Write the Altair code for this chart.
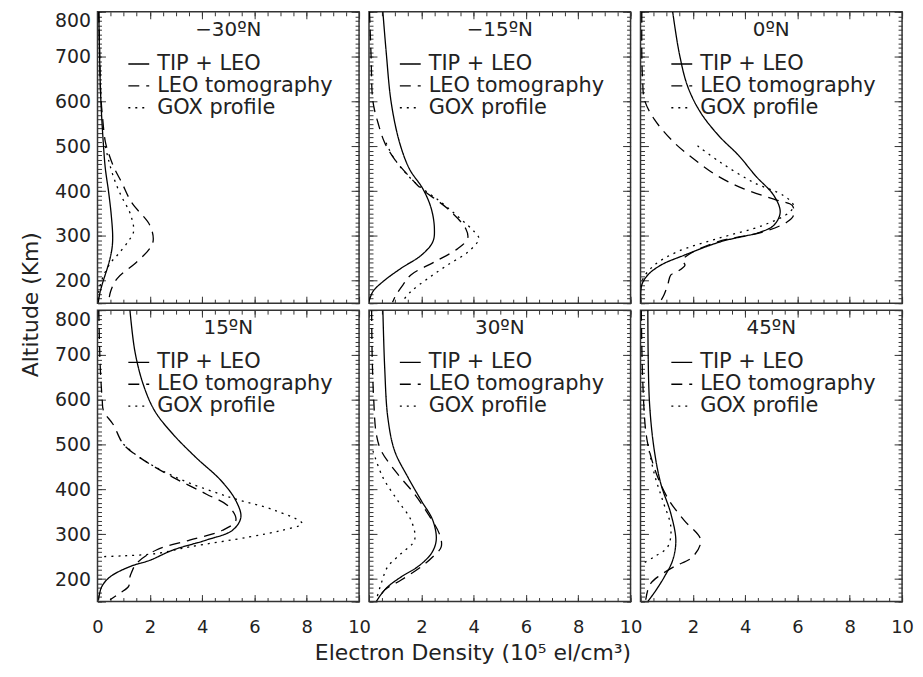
import altair as alt
import pandas as pd

FONT = "DejaVu Sans"
LAT = ["−30ºN", "−15ºN", "0ºN", "15ºN", "30ºN", "45ºN"]
SERIES = ["TIP + LEO", "LEO tomography", "GOX profile"]
DASHES = [[1, 0], [11, 7], [2, 5]]
XTITLE = "Electron Density (10⁵ el/cm³)"
YTITLE = "Altitude (Km)"

X_MAJOR = [0, 2, 4, 6, 8, 10]
X_MINOR = [0, 0.5, 1, 1.5, 2, 2.5, 3, 3.5, 4, 4.5, 5, 5.5, 6, 6.5, 7, 7.5, 8, 8.5, 9, 9.5, 10]
Y_MAJOR = [150, 200, 300, 400, 500, 600, 700, 800]
Y_MINOR = list(range(150, 801, 10))

# (altitude km, electron density 1e5 el/cm3)
tip_m30 = [(800, 0.05), (700, 0.08), (600, 0.13), (500, 0.23), (450, 0.3), (400, 0.42), (350, 0.52), (300, 0.58),
           (275, 0.56), (250, 0.48), (225, 0.36), (200, 0.22), (175, 0.1), (152, 0.03)]
leo_m30 = [(800, 0.05), (720, 0.08), (620, 0.12), (560, 0.2), (510, 0.3), (480, 0.45), (450, 0.65), (420, 0.92),
           (375, 1.3), (324, 2.0), (290, 2.13), (272, 2.0), (242, 1.5), (205, 0.75), (176, 0.5), (150, 0.42)]
gox_m30 = [(500, 0.3), (470, 0.42), (430, 0.62), (390, 0.9), (350, 1.25), (310, 1.38), (290, 1.2), (260, 0.8),
           (240, 0.5), (210, 0.22), (180, 0.06), (150, 0.0)]

tip_m15 = [(800, 0.53), (708, 0.66), (597, 0.85), (508, 1.17), (449, 1.55), (405, 2.06), (361, 2.38), (316, 2.5),
           (287, 2.44), (257, 2.0), (228, 1.23), (198, 0.53), (176, 0.15), (154, 0.0)]
leo_m15 = [(800, 0.02), (700, 0.08), (600, 0.15), (553, 0.34), (508, 0.6), (471, 0.98), (420, 1.74), (405, 2.0),
           (361, 3.0), (316, 3.7), (294, 3.77), (272, 3.4), (242, 2.5), (213, 1.6), (191, 1.3), (169, 1.04),
           (152, 0.9)]
gox_m15 = [(508, 0.65), (471, 0.98), (420, 1.74), (375, 2.76), (338, 3.5), (309, 4.03), (294, 4.2), (265, 3.8),
           (235, 3.0), (205, 2.25), (176, 1.6), (152, 1.25)]

tip_0 = [(800, 1.23), (708, 1.48), (634, 1.8), (575, 2.3), (523, 3.0), (479, 3.76), (434, 4.4), (390, 5.1),
         (353, 5.34), (324, 5.1), (309, 4.6), (287, 3.06), (257, 1.67), (235, 0.78), (213, 0.28), (191, 0.05),
         (152, 0.0)]
leo_0 = [(800, 0.05), (700, 0.05), (650, 0.08), (604, 0.15), (560, 0.53), (508, 1.29), (471, 2.05), (434, 2.94),
         (405, 3.95), (380, 5.2), (368, 5.8), (346, 5.85), (331, 5.6), (309, 4.7), (287, 2.94), (257, 1.8),
         (245, 1.6), (235, 1.7), (220, 1.4), (213, 1.16), (191, 1.04), (169, 0.9), (150, 0.72)]
gox_0 = [(501, 2.18), (464, 3.06), (420, 4.3), (390, 5.47), (368, 5.85), (353, 5.7), (324, 4.7), (294, 2.94),
         (265, 1.42), (235, 0.53), (205, 0.1), (180, 0.0)]

tip_15 = [(800, 1.24), (708, 1.43), (634, 1.75), (575, 2.19), (523, 2.89), (471, 3.77), (420, 4.72), (375, 5.29),
          (338, 5.48), (309, 5.16), (287, 4.15), (265, 2.89), (242, 2.0), (228, 1.24), (205, 0.48), (183, 0.16),
          (154, 0.04)]
leo_15 = [(800, 0.05), (680, 0.1), (600, 0.18), (575, 0.23), (545, 0.6), (501, 0.99), (471, 1.62), (427, 2.89),
          (390, 4.15), (361, 5.04), (331, 5.29), (309, 4.78), (287, 3.52), (265, 2.25), (235, 1.49), (215, 1.3),
          (205, 1.24), (190, 1.22), (183, 1.18), (169, 0.86), (154, 0.48)]
gox_15 = [(501, 0.99), (471, 1.62), (427, 3.0), (383, 5.04), (353, 6.8), (324, 7.82), (309, 7.06), (294, 5.8),
          (272, 3.52), (257, 2.25), (252, 1.0), (250, 0.1)]

tip_30 = [(800, 0.53), (671, 0.6), (560, 0.72), (486, 0.98), (427, 1.49), (375, 2.0), (331, 2.44), (287, 2.57),
          (257, 2.38), (228, 1.87), (205, 1.23), (183, 0.72), (161, 0.4), (150, 0.28)]
leo_30 = [(800, 0.1), (700, 0.12), (600, 0.18), (523, 0.28), (486, 0.47), (434, 1.1), (390, 1.74), (346, 2.25),
          (301, 2.69), (272, 2.76), (250, 2.44), (228, 2.0), (198, 1.23), (176, 0.6), (154, 0.34)]
gox_30 = [(486, 0.15), (427, 0.53), (375, 1.1), (331, 1.61), (287, 1.74), (257, 1.23), (228, 0.72), (191, 0.47),
          (154, 0.28)]

tip_45 = [(800, 0.28), (597, 0.34), (486, 0.53), (412, 0.78), (346, 1.16), (287, 1.35), (242, 1.23), (205, 0.91),
          (176, 0.6), (150, 0.28)]
leo_45 = [(800, 0.03), (650, 0.08), (530, 0.2), (486, 0.34), (427, 0.66), (375, 1.1), (331, 1.67), (287, 2.3),
          (250, 2.0), (228, 1.29), (205, 0.66), (191, 0.4), (176, 0.28), (154, 0.2)]
gox_45 = [(501, 0.28), (434, 0.53), (375, 0.85), (316, 1.16), (272, 1.04), (250, 0.53), (235, 0.09)]

PANEL_DATA = [
    (tip_m30, leo_m30, gox_m30),
    (tip_m15, leo_m15, gox_m15),
    (tip_0, leo_0, gox_0),
    (tip_15, leo_15, gox_15),
    (tip_30, leo_30, gox_30),
    (tip_45, leo_45, gox_45),
]

rows = []
for lat, curves in zip(LAT, PANEL_DATA):
    for name, pts in zip(SERIES, curves):
        for k, (a, v) in enumerate(pts):
            rows.append({"lat": lat, "series": name, "alt": a, "ne": v, "idx": k})
df = pd.DataFrame(rows)

W, H = 263, 293


def make_panel(i):
    row, col = divmod(i, 3)
    lat = LAT[i]
    d = df[df["lat"] == lat]
    xs = alt.Scale(domain=[0, 10], nice=False, zero=False)
    ys = alt.Scale(domain=[150, 800], nice=False, zero=False)

    xb = dict(orient="bottom", values=X_MAJOR, offset=-7, tickSize=7, domain=False, grid=False,
              labelFlush=False, labelOverlap=False, labelPadding=17, title=None)
    if row == 1:
        xb["labels"] = True
        if col > 0:
            xb["labelExpr"] = "datum.value == 0 ? '' : datum.label"
        if col == 1:
            xb["title"] = XTITLE
            xb["titleX"] = 104
            xb["titlePadding"] = 6
            xb["titleFontSize"] = 22
    else:
        xb["labels"] = False

    yl = dict(orient="left", values=Y_MAJOR, offset=-8, tickSize=8, domain=False, grid=False,
              labelFlush=True, labelOverlap=False, labelPadding=7, labelFontSize=19,
              labelExpr="datum.value == 150 ? '' : datum.label", title=None)
    if col == 0:
        yl["labels"] = True
        if row == 0:
            yl["title"] = YTITLE
            yl["titleX"] = -75
            yl["titleY"] = 294
            yl["titleBaseline"] = "middle"
            yl["titleFontSize"] = 22
    else:
        yl["labels"] = False

    lines = alt.Chart(d).mark_line(color="black", strokeWidth=1.3, interpolate="catmull-rom", clip=True).encode(
        x=alt.X("ne:Q", scale=xs, axis=alt.Axis(**xb)),
        y=alt.Y("alt:Q", scale=ys, axis=alt.Axis(**yl)),
        strokeDash=alt.StrokeDash(
            "series:N",
            scale=alt.Scale(domain=SERIES, range=DASHES),
            legend=alt.Legend(orient="none", legendX=30, legendY=41, title=None, symbolType="stroke",
                              symbolSize=441, symbolStrokeWidth=1.3, symbolStrokeColor="black",
                              labelFontSize=21, labelFont=FONT, labelLimit=400, labelOffset=7,
                              rowPadding=0, padding=0, labelColor="#222"),
        ),
        order=alt.Order("idx:Q"),
    )

    def ghost(xax, yax):
        return alt.Chart(d).mark_point(opacity=0, size=0).encode(
            x=alt.X("ne:Q", scale=xs, axis=xax),
            y=alt.Y("alt:Q", scale=ys, axis=yax),
        )

    g1 = ghost(
        alt.Axis(orient="top", values=X_MAJOR, offset=-7, tickSize=7, labels=False, domain=False, grid=False, title=None),
        alt.Axis(orient="right", values=Y_MAJOR, offset=-8, tickSize=8, labels=False, domain=False, grid=False, title=None),
    )
    g2 = ghost(
        alt.Axis(orient="bottom", values=X_MINOR, offset=-4, tickSize=4, labels=False, domain=False, grid=False, title=None),
        alt.Axis(orient="left", values=Y_MINOR, offset=-4, tickSize=4, labels=False, domain=False, grid=False, title=None),
    )
    g3 = ghost(
        alt.Axis(orient="top", values=X_MINOR, offset=-4, tickSize=4, labels=False, domain=False, grid=False, title=None),
        alt.Axis(orient="right", values=Y_MINOR, offset=-4, tickSize=4, labels=False, domain=False, grid=False, title=None),
    )

    ttl = alt.Chart(pd.DataFrame({"t": [lat]})).mark_text(
        font=FONT, fontSize=20, color="#222", baseline="middle", align="center"
    ).encode(text="t:N", x=alt.value(W / 2), y=alt.value(18))

    return alt.layer(lines, g1, g2, g3, ttl).resolve_axis(x="independent", y="independent").properties(
        width=W, height=H)


chart = alt.concat(
    *[make_panel(i) for i in range(6)],
    columns=3,
    spacing=alt.RowColnumber(row=7, column=10),
    bounds="flush",
).resolve_scale(strokeDash="independent").resolve_legend(strokeDash="independent").properties(
    padding={"left": 11, "top": 0, "right": 0, "bottom": 0}
).configure_view(stroke="#333", strokeWidth=1.5).configure_axis(
    labelFont=FONT, titleFont=FONT, labelColor="#222", titleColor="#222", tickColor="#333",
    tickWidth=1, labelFontSize=18, titleFontSize=20, titleFontWeight="normal"
)

chart.save("out.html", embed_options={"renderer": "svg", "actions": False})
